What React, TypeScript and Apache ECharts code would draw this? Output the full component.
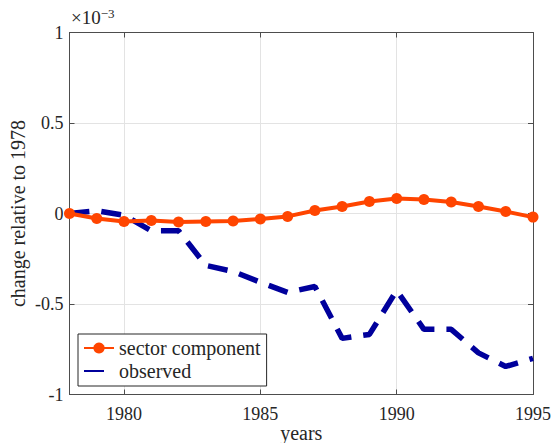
import React, { useEffect, useRef } from "react";
import * as echarts from "echarts";

// values in units of 1e-3
const years = [1978, 1979, 1980, 1981, 1982, 1983, 1984, 1985, 1986, 1987, 1988, 1989, 1990, 1991, 1992, 1993, 1994, 1995];
const sectorComponent = [0, -0.028, -0.044, -0.039, -0.047, -0.044, -0.042, -0.03, -0.016, 0.017, 0.039, 0.066, 0.083, 0.077, 0.063, 0.039, 0.011, -0.02];
const observed = [0, 0.015, -0.01, -0.095, -0.095, -0.287, -0.32, -0.38, -0.436, -0.403, -0.69, -0.668, -0.425, -0.64, -0.64, -0.77, -0.845, -0.8];
const xTicks = [1980, 1985, 1990, 1995];

const FONT = "'Liberation Serif', 'DejaVu Serif', serif";
const TXT = "#262626";
const AX = "#4d4d4d";

export default function App() {
  const ref = useRef<HTMLDivElement>(null);
  useEffect(() => {
    const chart = echarts.init(ref.current!, null, { renderer: "svg" });
    const fmtY = (v: number) => (v === 0 ? "0" : String(v));
    chart.setOption({
      animation: false,
      backgroundColor: "#fff",
      textStyle: { fontFamily: FONT, color: TXT },
      grid: { left: 69.5, right: 19, top: 32.5, bottom: 48.5, containLabel: false, outerBoundsMode: "none" },
      xAxis: [
        {
          type: "value", min: 1978, max: 1995,
          name: "years", nameLocation: "middle", nameGap: 28, nameMoveOverlap: false,
          nameTextStyle: { fontFamily: FONT, fontSize: 20, color: TXT },
          axisLine: { show: true, onZero: false, lineStyle: { color: AX, width: 1 } },
          axisTick: { show: true, inside: true, length: 5, customValues: xTicks, lineStyle: { color: AX } },
          axisLabel: { customValues: xTicks, fontFamily: FONT, fontSize: 18, color: TXT, margin: 10, formatter: (v: number) => String(v) },
          splitLine: { show: true, lineStyle: { color: "#e3e3e3", width: 1 } },
        },
        {
          type: "value", min: 1978, max: 1995, position: "top",
          axisLine: { show: true, onZero: false, lineStyle: { color: AX, width: 1 } },
          axisTick: { show: true, inside: true, length: 5, customValues: xTicks, lineStyle: { color: AX } },
          axisLabel: { show: false },
          splitLine: { show: false },
        },
      ],
      yAxis: [
        {
          type: "value", min: -1, max: 1, interval: 0.5,
          name: "change relative to 1978", nameLocation: "middle", nameGap: 42, nameMoveOverlap: false,
          nameTextStyle: { fontFamily: FONT, fontSize: 20, color: TXT },
          axisLine: { show: true, onZero: false, lineStyle: { color: AX, width: 1 } },
          axisTick: { show: true, inside: true, length: 5, lineStyle: { color: AX } },
          axisLabel: { fontFamily: FONT, fontSize: 18, color: TXT, margin: 6, formatter: fmtY },
          splitLine: { show: true, lineStyle: { color: "#e3e3e3", width: 1 } },
        },
        {
          type: "value", min: -1, max: 1, interval: 0.5, position: "right",
          axisLine: { show: true, onZero: false, lineStyle: { color: AX, width: 1 } },
          axisTick: { show: true, inside: true, length: 5, lineStyle: { color: AX } },
          axisLabel: { show: false },
          splitLine: { show: false },
        },
      ],
      legend: {
        left: 78, top: 334, orient: "vertical",
        padding: [4, 6, 5, 5], itemGap: 3, itemWidth: 30, itemHeight: 14,
        borderColor: "#262626", borderWidth: 1, backgroundColor: "#fff",
        textStyle: { fontFamily: FONT, fontSize: 20, lineHeight: 19, color: TXT },
        data: [
          { name: "sector component" },
          { name: "observed", itemStyle: { opacity: 0 } },
        ],
      },
      graphic: [
        {
          type: "text", left: 71, top: 7,
          style: {
            text: "×10{sup|−3}",
            font: `19px ${FONT}`, fill: TXT,
            rich: { sup: { fontFamily: FONT, fontSize: 13, fill: TXT, verticalAlign: "top", padding: [0, 0, 8, 0] } },
          },
        },
      ],
      series: [
        {
          name: "observed", type: "line",
          data: years.map((y, i) => [y, observed[i]]),
          symbol: "none", color: "#00009c",
          lineStyle: { color: "#00009c", width: 5.5, type: [20, 12] },
          z: 2,
        },
        {
          name: "sector component", type: "line",
          data: years.map((y, i) => [y, sectorComponent[i]]),
          symbol: "circle", symbolSize: 11, color: "#ff4500",
          itemStyle: { color: "#ff4500" },
          lineStyle: { color: "#ff4500", width: 4 },
          z: 3,
        },
      ],
    });
    return () => chart.dispose();
  }, []);
  return <div ref={ref} style={{ width: 552, height: 443, position: "absolute", left: 0, top: 0 }} />;
}
